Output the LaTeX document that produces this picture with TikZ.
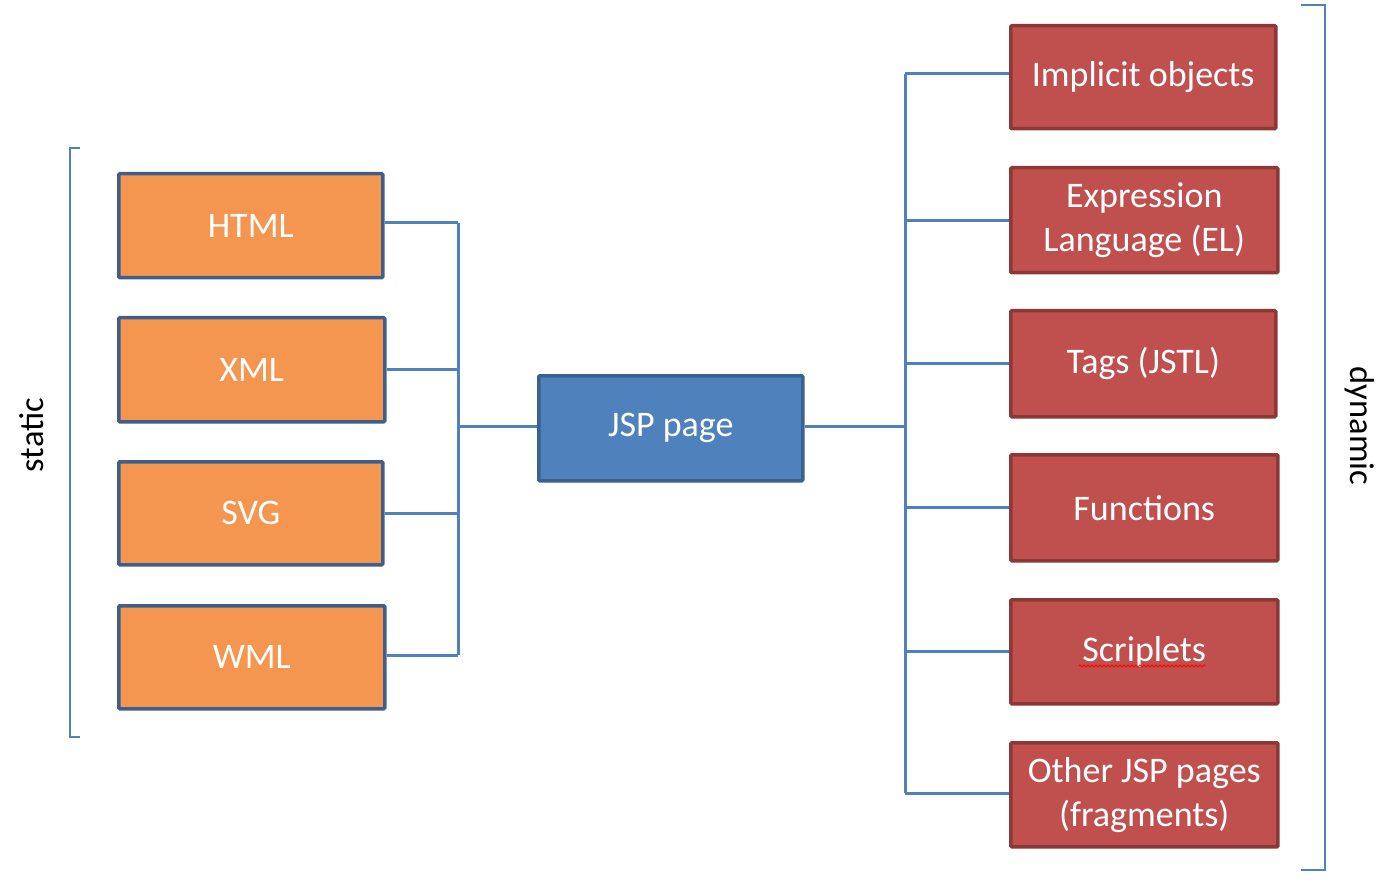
\documentclass[tikz,border=0pt]{standalone}
\usepackage{fontspec}
\setmainfont{Carlito}
\usetikzlibrary{decorations.pathmorphing}
\definecolor{orfill}{HTML}{F4964F}
\definecolor{orline}{HTML}{3D5F8A}
\definecolor{blfill}{HTML}{4F81BD}
\definecolor{blline}{HTML}{3A6190}
\definecolor{rdfill}{HTML}{C0504D}
\definecolor{rdline}{HTML}{8C3836}
\definecolor{conn}{HTML}{4F81BD}
\tikzset{
  box/.style={draw, line width=3.5pt, rounded corners=1pt, inner sep=0pt, anchor=north west, text=white, font=\fontsize{36}{44}\selectfont, align=center},
  orbox/.style={box, fill=orfill, draw=orline},
  blbox/.style={box, fill=blfill, draw=blline},
  rdbox/.style={box, fill=rdfill, draw=rdline},
  link/.style={draw=conn, line width=3pt},
  brack/.style={draw=conn, line width=2pt},
  side/.style={font=\fontsize{34.5}{40}\selectfont, text=black}
}
\begin{document}
\begin{tikzpicture}[x=1pt,y=-1pt]
\useasboundingbox (0,0) rectangle (1386,882);
% left boxes
\node[orbox, minimum width=264pt, minimum height=104pt] (html) at (117,172) {HTML};
\node[orbox, minimum width=266pt, minimum height=104pt] (xml) at (117,316) {XML};
\node[orbox, minimum width=264pt, minimum height=103pt] (svg) at (117,460) {SVG};
\node[orbox, minimum width=266pt, minimum height=103pt] (wml) at (117,604) {WML};
% center
\node[blbox, minimum width=264pt, minimum height=105pt] (jsp) at (537,374) {JSP page};
% right boxes
\node[rdbox, minimum width=265pt, minimum height=103pt] (imp) at (1009,24) {Implicit objects};
\node[rdbox, minimum width=267pt, minimum height=105pt] (el) at (1009,166) {Expression\\Language (EL)};
\node[rdbox, minimum width=265pt, minimum height=106pt] (tags) at (1009,309) {Tags (JSTL)};
\node[rdbox, minimum width=267pt, minimum height=106pt] (fun) at (1009,453) {Functions};
\node[rdbox, minimum width=267pt, minimum height=104pt] (scr) at (1009,598) {Scriplets};
\node[rdbox, minimum width=267pt, minimum height=104pt] (oth) at (1009,741) {Other JSP pages\\(fragments)};
% spell squiggle
\coordinate (sqa) at (1079,666);
\coordinate (sqb) at (1206,666);
\draw[red, line width=0.8pt, decorate, decoration={zigzag, segment length=4pt, amplitude=1.2pt}] (sqa) -- (sqb);
% left bus
\coordinate (lb1) at (458,223);
\coordinate (lb2) at (458,655);
\coordinate (lbc) at (458,426);
\draw[link] (lb1) -- (lb2);
\draw[link] (html.east |- lb1) -- (lb1);
\draw[link] (xml.east) -- (xml.east -| lb1);
\draw[link] (svg.east) -- (svg.east -| lb1);
\draw[link] (wml.east |- lb2) -- (lb2);
\draw[link] (lbc) -- (jsp.west |- lbc);
% right bus
\coordinate (rb1) at (905,74);
\coordinate (rb2) at (905,793);
\coordinate (rbc) at (905,426);
\draw[link] (rb1) -- (rb2);
\draw[link] (jsp.east |- rbc) -- (rbc);
\draw[link] (rb1) -- (imp.west |- rb1);
\draw[link] (el.west -| rb1) -- (el.west);
\draw[link] (tags.west -| rb1) -- (tags.west);
\draw[link] (fun.west -| rb1) -- (fun.west);
\draw[link] (scr.west -| rb1) -- (scr.west);
\draw[link] (rb2) -- (oth.west |- rb2);
% brackets
\coordinate (la1) at (80,148);
\coordinate (la2) at (70,148);
\coordinate (la3) at (70,737);
\coordinate (la4) at (80,737);
\draw[brack] (la1) -- (la2) -- (la3) -- (la4);
\coordinate (ra1) at (1301,5);
\coordinate (ra2) at (1325,5);
\coordinate (ra3) at (1325,870);
\coordinate (ra4) at (1301,870);
\draw[brack] (ra1) -- (ra2) -- (ra3) -- (ra4);
% side labels
\node[side, rotate=90] (static) at (32,435) {static};
\node[side, rotate=-90] (dyn) at (1360,426) {dynamic};
\end{tikzpicture}
\end{document}
